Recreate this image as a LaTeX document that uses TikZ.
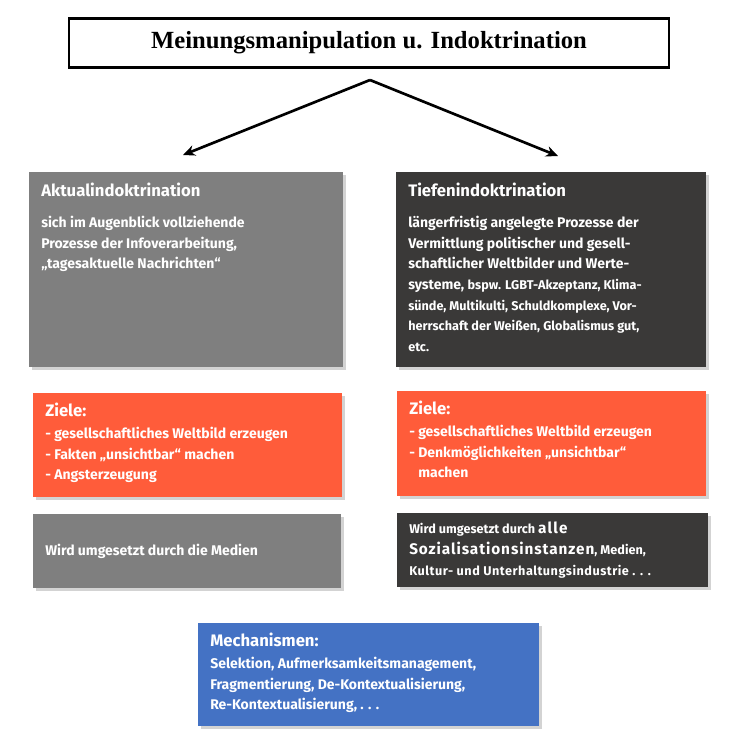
\documentclass[tikz,border=0pt]{standalone}
\usepackage{fontspec}
\setmainfont{Fira Sans}
\newfontfamily\titlefont{Liberation Serif}
\usetikzlibrary{arrows.meta, shadows, positioning}
\definecolor{boxgrey}{RGB}{127, 127, 127}
\definecolor{boxdark}{RGB}{58, 57, 56}
\definecolor{boxred}{RGB}{255, 92, 58}
\definecolor{boxblue}{RGB}{68, 114, 196}

\tikzset{
  panel/.style={draw=none, drop shadow={shadow xshift=2pt, shadow yshift=-2pt, opacity=0.35}},
  txt/.style={anchor=north west, text=white, align=left, inner sep=0pt, font=\bfseries\fontsize{10.5}{15.5}\selectfont},
  head/.style={txt, font=\bfseries\fontsize{12.5}{15}\selectfont}
}

\begin{document}
\begin{tikzpicture}[x=0.75pt, y=-0.75pt]
  \useasboundingbox (0,0) rectangle (736,747);

  % title
  \node[draw, line width=2.2pt, fill=white, minimum width=450pt, minimum height=37pt,
        font=\titlefont\bfseries\fontsize{18.5}{20}\selectfont] (title) at (369,43)
        {Meinungsmanipulation u. Indoktrination};
  \coordinate (fork) at (370,80);
  \coordinate (lefttip) at (183,155);
  \coordinate (righttip) at (558,156);
  \draw[line width=2pt, -{Stealth[length=9pt, width=8pt]}] (fork) -- (lefttip);
  \draw[line width=2pt, -{Stealth[length=9pt, width=8pt]}] (fork) -- (righttip);

  % left column
  \fill[boxgrey, panel] (29,172) rectangle (343,367);
  \node[head] (aktualhead) at (41,183) {Aktualindoktrination};
  \node[txt] (aktualtxt) at (41,216) {sich im Augenblick vollziehende\\Prozesse der Infoverarbeitung,\\„tagesaktuelle Nachrichten“};

  \fill[boxred, panel] (33,393) rectangle (342,497);
  \node[head] (zielelhead) at (45,403) {Ziele:};
  \node[txt] (zieleltxt) at (45,427) {- gesellschaftliches Weltbild erzeugen\\- Fakten „unsichtbar“ machen\\- Angsterzeugung};

  \fill[boxgrey, panel] (33,514) rectangle (341,588);
  \node[txt, anchor=west] (medienl) at (45,551) {Wird umgesetzt durch die Medien};

  % right column
  \fill[boxdark, panel] (396,172) rectangle (706,367);
  \node[head] (tiefenhead) at (408,183) {Tiefenindoktrination};
  \node[txt] (tiefentxt) at (408,216) {längerfristig angelegte Prozesse der\\Vermittlung politischer und gesell-\\schaftlicher Weltbilder und Werte-\\systeme, {\fontsize{9.5}{15.5}\selectfont bspw. LGBT-Akzeptanz, Klima-}\\{\fontsize{9.5}{15.5}\selectfont sünde, Multikulti, Schuldkomplexe, Vor-}\\{\fontsize{9.5}{15.5}\selectfont herrschaft der Weißen, Globalismus gut,}\\{\fontsize{9.5}{15.5}\selectfont etc.}};

  \fill[boxred, panel] (397,391) rectangle (706,496);
  \node[head] (zielerhead) at (409,401) {Ziele:};
  \node[txt] (zielertxt) at (409,425) {- gesellschaftliches Weltbild erzeugen\\- Denkmöglichkeiten „unsichtbar“\\\phantom{- }machen};

  \fill[boxdark, panel] (397,513) rectangle (708,587);
  \node[txt, font=\bfseries\fontsize{9.5}{15.5}\selectfont] (medienr) at (409,522)
    {Wird umgesetzt durch {\fontsize{11.5}{15.5}\selectfont\addfontfeature{LetterSpace=8} alle}\\{\fontsize{11.5}{15.5}\selectfont\addfontfeature{LetterSpace=6} Sozialisationsinstanzen}, Medien,\\{\addfontfeature{LetterSpace=4}Kultur- und Unterhaltungsindustrie . . .}};

  % mechanisms
  \fill[boxblue, panel] (198,623) rectangle (539,726);
  \node[head] (mechhead) at (210,633) {Mechanismen:};
  \node[txt] (mechtxt) at (210,657) {Selektion, Aufmerksamkeitsmanagement,\\Fragmentierung, De-Kontextualisierung,\\Re-Kontextualisierung, . . .};
\end{tikzpicture}
\end{document}
